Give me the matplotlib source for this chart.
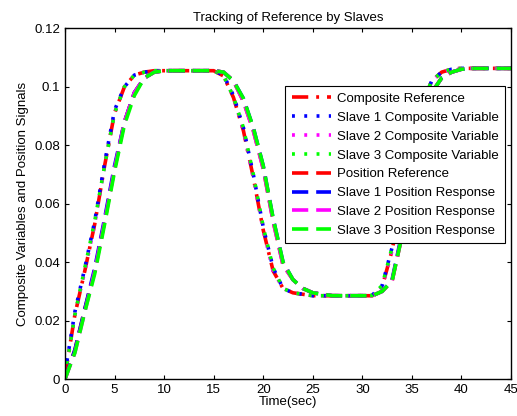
import numpy as np
import matplotlib
matplotlib.use("Agg")
import matplotlib.pyplot as plt

plt.rcParams['font.family'] = ['Liberation Sans', 'DejaVu Sans']

# time axis (sec)
t = list(range(46))

# composite signals (1 s steps)
comp_ref = [0.001, 0.022, 0.037, 0.053, 0.073, 0.091, 0.100, 0.104, 0.105, 0.1055,
            0.1055, 0.1055, 0.1055, 0.1055, 0.1055, 0.1055, 0.1037, 0.0963, 0.085, 0.069,
            0.051, 0.037, 0.031, 0.0295, 0.029, 0.0285, 0.0285, 0.0285, 0.0285, 0.0285,
            0.0285, 0.0285, 0.0315, 0.044, 0.062, 0.080, 0.094, 0.102, 0.105, 0.106,
            0.1063, 0.1063, 0.1063, 0.1063, 0.1063, 0.1063]
slave1_comp = [0.002, 0.023, 0.038, 0.054, 0.074, 0.092, 0.100, 0.104, 0.105, 0.1055,
               0.1055, 0.1055, 0.1055, 0.1055, 0.1055, 0.1055, 0.1040, 0.0970, 0.086, 0.070,
               0.052, 0.038, 0.031, 0.0295, 0.029, 0.0285, 0.0285, 0.0285, 0.0285, 0.0285,
               0.0285, 0.0287, 0.032, 0.045, 0.063, 0.081, 0.094, 0.102, 0.105, 0.106,
               0.1063, 0.1063, 0.1063, 0.1063, 0.1063, 0.1063]
slave2_comp = [0.001, 0.022, 0.037, 0.053, 0.073, 0.091, 0.100, 0.104, 0.105, 0.1055,
               0.1055, 0.1055, 0.1055, 0.1055, 0.1055, 0.1055, 0.1037, 0.0965, 0.085, 0.069,
               0.051, 0.037, 0.031, 0.0295, 0.029, 0.0285, 0.0285, 0.0285, 0.0285, 0.0285,
               0.0285, 0.0285, 0.0315, 0.044, 0.062, 0.080, 0.094, 0.102, 0.105, 0.106,
               0.1063, 0.1063, 0.1063, 0.1063, 0.1063, 0.1063]
slave3_comp = [0.001, 0.022, 0.038, 0.054, 0.073, 0.091, 0.100, 0.104, 0.105, 0.1055,
               0.1055, 0.1055, 0.1055, 0.1055, 0.1055, 0.1055, 0.1038, 0.0965, 0.086, 0.070,
               0.052, 0.038, 0.031, 0.0295, 0.029, 0.0285, 0.0285, 0.0285, 0.0285, 0.0285,
               0.0285, 0.0286, 0.032, 0.045, 0.063, 0.080, 0.094, 0.102, 0.105, 0.106,
               0.1063, 0.1063, 0.1063, 0.1063, 0.1063, 0.1063]

# position signals
pos_ref = [0.000, 0.010, 0.024, 0.037, 0.054, 0.072, 0.088, 0.098, 0.103, 0.105,
           0.1055, 0.1055, 0.1055, 0.1055, 0.1055, 0.1055, 0.105, 0.102, 0.095, 0.085,
           0.072, 0.054, 0.039, 0.034, 0.031, 0.0295, 0.029, 0.0285, 0.0285, 0.0285,
           0.0285, 0.0285, 0.030, 0.0335, 0.049, 0.069, 0.087, 0.098, 0.103, 0.105,
           0.106, 0.1063, 0.1063, 0.1063, 0.1063, 0.1063]
slave1_pos = [0.000, 0.010, 0.024, 0.038, 0.055, 0.073, 0.088, 0.098, 0.103, 0.105,
              0.1055, 0.1055, 0.1055, 0.1055, 0.1055, 0.1055, 0.105, 0.102, 0.096, 0.086,
              0.073, 0.055, 0.040, 0.034, 0.031, 0.0295, 0.029, 0.0285, 0.0285, 0.0285,
              0.0285, 0.0285, 0.030, 0.034, 0.050, 0.070, 0.087, 0.098, 0.103, 0.105,
              0.106, 0.1063, 0.1063, 0.1063, 0.1063, 0.1063]
slave2_pos = [0.000, 0.009, 0.023, 0.037, 0.054, 0.072, 0.088, 0.098, 0.103, 0.105,
              0.1055, 0.1055, 0.1055, 0.1055, 0.1055, 0.1055, 0.105, 0.102, 0.095, 0.085,
              0.072, 0.054, 0.039, 0.034, 0.031, 0.0295, 0.029, 0.0285, 0.0285, 0.0285,
              0.0285, 0.0285, 0.030, 0.0335, 0.049, 0.069, 0.087, 0.098, 0.103, 0.105,
              0.106, 0.1063, 0.1063, 0.1063, 0.1063, 0.1063]
slave3_pos = [0.000, 0.009, 0.023, 0.036, 0.053, 0.071, 0.087, 0.097, 0.103, 0.105,
              0.1055, 0.1055, 0.1055, 0.1055, 0.1055, 0.1055, 0.105, 0.102, 0.096, 0.086,
              0.073, 0.055, 0.040, 0.034, 0.031, 0.0295, 0.029, 0.0285, 0.0285, 0.0285,
              0.0285, 0.0285, 0.030, 0.0335, 0.049, 0.069, 0.087, 0.098, 0.103, 0.105,
              0.106, 0.1063, 0.1063, 0.1063, 0.1063, 0.1063]

xticks = list(range(0, 46, 5))
yticks = [0, 0.02, 0.04, 0.06, 0.08, 0.1, 0.12]
yticklabels = ["0", "0.02", "0.04", "0.06", "0.08", "0.1", "0.12"]

fs = 9.5

fig = plt.figure(figsize=(5.17, 4.16), dpi=100)
ax = fig.add_axes([0.1257, 0.0889, 0.8627, 0.843])

lw = 2.6
dashdot = (4.5, 2.2, 0.8, 2.2)
dot = (0.8, 2.6)
dash = (4.5, 2.2)

ax.plot(t, comp_ref, color="red", dashes=dashdot, lw=lw, label="Composite Reference")
ax.plot(t, slave1_comp, color="blue", dashes=dot, lw=lw, label="Slave 1 Composite Variable")
ax.plot(t, slave2_comp, color="magenta", dashes=dot, lw=lw, label="Slave 2 Composite Variable")
ax.plot(t, slave3_comp, color="#00ff00", dashes=dot, lw=lw, label="Slave 3 Composite Variable")
ax.plot(t, pos_ref, color="red", dashes=dash, lw=lw, label="Position Reference")
ax.plot(t, slave1_pos, color="blue", dashes=dash, lw=lw, label="Slave 1 Position Response")
ax.plot(t, slave2_pos, color="magenta", dashes=dash, lw=lw, label="Slave 2 Position Response")
ax.plot(t, slave3_pos, color="#00ff00", dashes=dash, lw=lw, label="Slave 3 Position Response")

ax.set_xlim(0, 45)
ax.set_ylim(0, 0.12)
ax.set_xticks(xticks)
ax.set_yticks(yticks)
ax.set_yticklabels(yticklabels)
ax.tick_params(direction="in", top=True, right=True, labelsize=fs, length=3)
for s in ax.spines.values():
    s.set_linewidth(1.0)

ax.set_title("Tracking of Reference by Slaves", fontsize=fs, pad=5)
ax.set_xlabel("Time(sec)", fontsize=fs, labelpad=0)
ax.set_ylabel("Composite Variables and Position Signals", fontsize=fs, labelpad=4)

leg = ax.legend(loc="upper right", bbox_to_anchor=(0.987, 0.835), fontsize=fs,
                fancybox=False, framealpha=1, edgecolor="black", handlelength=3.0,
                borderpad=0.5, labelspacing=0.5, handletextpad=0.4, borderaxespad=0)
leg.get_frame().set_linewidth(0.8)

fig.savefig("out.png", dpi=100)
